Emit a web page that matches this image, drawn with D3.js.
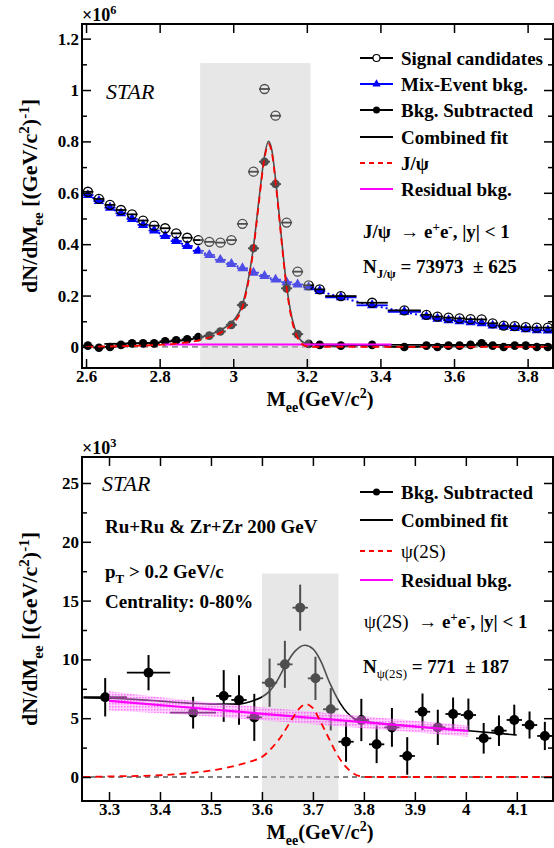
<!DOCTYPE html>
<html>
<head>
<meta charset="utf-8">
<script src="https://cdn.jsdelivr.net/npm/d3@7"></script>
<style>
body { margin: 0; background: #fff; }
svg text { font-family: "Liberation Serif", "Times New Roman", serif; font-weight: bold; white-space: pre; }
</style>
</head>
<body>
<svg width="554" height="848"></svg>
<script>

// ---- J/psi panel data ----
var massTop = [2.605, 2.635, 2.665, 2.695, 2.725, 2.755, 2.785, 2.815, 2.845, 2.875, 2.905, 2.935, 2.965, 2.995, 3.025,
    3.055, 3.085, 3.115, 3.145, 3.175, 3.205, 3.235, 3.2925, 3.3775, 3.465,
    3.525, 3.555, 3.585, 3.615, 3.645, 3.675, 3.705, 3.735, 3.765, 3.795, 3.825, 3.855];
var halfBinTop = [0.015, 0.015, 0.015, 0.015, 0.015, 0.015, 0.015, 0.015, 0.015, 0.015, 0.015, 0.015, 0.015, 0.015, 0.015,
    0.015, 0.015, 0.015, 0.015, 0.015, 0.015, 0.015, 0.0425, 0.0425, 0.045,
    0.015, 0.015, 0.015, 0.015, 0.015, 0.015, 0.015, 0.015, 0.015, 0.015, 0.015, 0.015];
var signalCand = [0.604, 0.576, 0.553, 0.533, 0.516, 0.492, 0.472, 0.462, 0.442, 0.425, 0.416, 0.409, 0.406, 0.416, 0.479,
    0.682, 1.004, 0.900, 0.484, 0.293, 0.240, 0.224, 0.198, 0.172, 0.142,
    0.125, 0.118, 0.114, 0.111, 0.108, 0.107, 0.092, 0.083, 0.081, 0.077, 0.075, 0.075];
var mixEvent = [0.591, 0.568, 0.542, 0.520, 0.498, 0.475, 0.453, 0.432, 0.412, 0.393, 0.374, 0.358, 0.339, 0.323, 0.306,
    0.289, 0.276, 0.262, 0.252, 0.243, 0.232, 0.218, 0.193, 0.162, 0.137,
    0.118, 0.110, 0.104, 0.100, 0.096, 0.092, 0.083, 0.078, 0.074, 0.069, 0.065, 0.064];
var bkgSubTop = [0.005, -0.003, 0.0, 0.008, 0.014, 0.014, 0.014, 0.022, 0.026, 0.030, 0.038, 0.044, 0.060, 0.086, 0.163,
    0.384, 0.721, 0.634, 0.228, 0.050, 0.012, 0.008, 0.005, 0.008, 0.0,
    0.005, 0.0, 0.005, 0.005, 0.008, 0.014, 0.005, 0.0, 0.005, 0.005, 0.0, 0.0];

// fit curves
var jpsiX = [2.60, 2.65, 2.70, 2.75, 2.80, 2.85, 2.90, 2.95, 2.98, 3.00, 3.025, 3.04, 3.055, 3.07, 3.084, 3.096,
    3.105, 3.116, 3.13, 3.145, 3.16, 3.175, 3.19, 3.21, 3.30, 3.50, 3.70, 3.87];
var jpsiY = [0.0, 0.002, 0.003, 0.005, 0.008, 0.013, 0.024, 0.045, 0.068, 0.092, 0.155, 0.245, 0.38, 0.565, 0.725, 0.79,
    0.755, 0.63, 0.43, 0.23, 0.10, 0.035, 0.008, 0.0, 0.0, 0.0, 0.0, 0.0];
var combTopX = [2.65, 2.70, 2.75, 2.80, 2.85, 2.90, 2.95, 2.98, 3.00, 3.025, 3.04, 3.055, 3.07, 3.084, 3.096,
    3.105, 3.116, 3.13, 3.145, 3.16, 3.175, 3.19, 3.21, 3.30, 3.50, 3.70, 3.865];
var combTopY = [0.012, 0.013, 0.015, 0.018, 0.023, 0.034, 0.055, 0.078, 0.102, 0.165, 0.255, 0.39, 0.575, 0.735, 0.80,
    0.765, 0.64, 0.44, 0.24, 0.11, 0.045, 0.018, 0.01, 0.009, 0.008, 0.008, 0.008];
var residTopX = [2.81, 3.43];
var residTopY = [0.009, 0.009];

var xTicksTop = [2.6, 2.8, 3, 3.2, 3.4, 3.6, 3.8];
var yTicksTop = [0, 0.2, 0.4, 0.6, 0.8, 1, 1.2];
var yMinorTop = [0.1, 0.3, 0.5, 0.7, 0.9, 1.1];

// ---- psi(2S) panel data ----
var massBot = [3.2925, 3.3775, 3.465, 3.525, 3.555, 3.585, 3.615, 3.645, 3.675, 3.705, 3.735, 3.765, 3.795,
    3.825, 3.855, 3.885, 3.915, 3.945, 3.975, 4.005, 4.035, 4.065, 4.095, 4.125, 4.155];
var halfBinBot = [0.0425, 0.0425, 0.045, 0.015, 0.015, 0.015, 0.015, 0.015, 0.015, 0.015, 0.015, 0.015, 0.015,
    0.015, 0.015, 0.015, 0.015, 0.015, 0.015, 0.015, 0.015, 0.015, 0.015, 0.015, 0.015];
var bkgSubBot = [6.78, 8.87, 5.47, 6.89, 6.55, 5.07, 8.02, 9.58, 14.4, 8.39, 5.76, 3.0, 4.85,
    2.78, 4.22, 1.79, 5.55, 4.22, 5.36, 5.27, 3.29, 3.94, 4.85, 4.42, 3.49];
var errBot = [1.63, 1.5, 1.35, 2.2, 2.1, 2.0, 2.05, 2.0, 1.96, 1.84, 1.8, 1.7, 1.8,
    1.6, 1.65, 1.6, 1.55, 1.5, 1.4, 1.4, 1.3, 1.3, 1.3, 1.15, 1.2];

var psiX = [3.25, 3.30, 3.40, 3.45, 3.50, 3.56, 3.58, 3.60, 3.62, 3.64, 3.66, 3.675, 3.687, 3.70, 3.715, 3.73,
    3.745, 3.76, 3.775, 3.79, 3.81, 3.90, 4.00, 4.171];
var psiY = [0.0, 0.05, 0.15, 0.3, 0.55, 1.1, 1.35, 1.7, 2.5, 3.6, 5.0, 5.9, 6.2, 5.85, 4.7, 3.4,
    2.1, 1.1, 0.45, 0.1, 0.0, 0.0, 0.0, 0.0];
var combBotX = [3.25, 3.30, 3.35, 3.40, 3.45, 3.50, 3.55, 3.58, 3.60, 3.615, 3.63, 3.645, 3.665, 3.684, 3.70,
    3.715, 3.733, 3.753, 3.78, 3.80, 3.85, 3.90, 4.00, 4.10];
var combBotY = [6.75, 6.7, 6.6, 6.45, 6.3, 6.2, 6.2, 6.45, 6.8, 7.3, 8.2, 9.4, 10.7, 11.2, 10.9,
    9.9, 8.0, 6.3, 5.0, 4.75, 4.5, 4.3, 3.95, 3.57];
var residBotX = [3.30, 3.45, 3.65, 3.85, 4.005];
var residBotY = [6.48, 5.93, 5.2, 4.47, 3.91];
var residBotLo = [5.65, 5.3, 4.65, 3.97, 3.43];
var residBotHi = [7.3, 6.55, 5.75, 4.97, 4.38];

var xTicksBot = [3.3, 3.4, 3.5, 3.6, 3.7, 3.8, 3.9, 4, 4.1];
var yTicksBot = [0, 5, 10, 15, 20, 25];
var yMinorBot = [2.5, 7.5, 12.5, 17.5, 22.5];

var svg = d3.select("svg");
var w = 471, h = 344;
var FONT = "'Liberation Serif', 'Times New Roman', serif";

// text with sub/superscripts: parts = [[str, ""|"sub"|"sup", weight?], ...]
function rich(el, parts, fs) {
    var shift = 0;
    parts.forEach(function(p) {
        var s = p[1] == "sub" ? fs * 0.27 : p[1] == "sup" ? -fs * 0.38 : 0;
        var t = el.append("tspan").attr("dy", s - shift).attr("font-size", p[1] ? fs * 0.68 : fs).text(p[0]);
        if (p[2]) t.style("font-weight", p[2]);
        shift = s;
    });
    return el;
}

function fmt(d) { return String(+d.toFixed(2)); }

function axes(g, x, y, xt, yt, ym, expo, clipId) {
    g.append("clipPath").attr("id", clipId).append("rect").attr("width", w).attr("height", h);

    var ax = g.append("g").attr("class", "axes");
    ax.append("g").attr("transform", "translate(0," + h + ")")
        .call(d3.axisBottom(x).tickValues(xt).tickSizeInner(-9).tickSizeOuter(0).tickPadding(2).tickFormat(fmt));
    ax.append("g")
        .call(d3.axisTop(x).tickValues(xt).tickSizeInner(-9).tickSizeOuter(0).tickFormat(""));
    ax.append("g")
        .call(d3.axisLeft(y).tickValues(yt).tickSizeInner(-9).tickSizeOuter(0).tickPadding(3).tickFormat(fmt));
    ax.append("g")
        .call(d3.axisLeft(y).tickValues(ym).tickSizeInner(-5).tickSizeOuter(0).tickFormat(""));
    ax.append("g").attr("transform", "translate(" + w + ",0)")
        .call(d3.axisRight(y).tickValues(yt).tickSizeInner(-9).tickSizeOuter(0).tickFormat(""));
    ax.append("g").attr("transform", "translate(" + w + ",0)")
        .call(d3.axisRight(y).tickValues(ym).tickSizeInner(-5).tickSizeOuter(0).tickFormat(""));
    ax.selectAll(".domain").remove();
    ax.selectAll(".tick line").attr("stroke-width", 1.5);
    ax.selectAll("g").attr("font-family", FONT).attr("font-size", 17);
    ax.selectAll("text").attr("fill", "#000");

    ax.append("rect").attr("width", w).attr("height", h)
        .attr("fill", "none").attr("stroke", "#000").attr("stroke-width", 2);

    rich(ax.append("text").attr("x", 0).attr("y", -3).attr("font-size", 18), [["\u00d710", ""], [expo, "sup"]], 18);

    rich(ax.append("text").attr("x", 238).attr("y", h + 38).attr("text-anchor", "middle"),
        [["M", ""], ["ee", "sub"], ["(GeV/c", ""], ["2", "sup"], [")", ""]], 20.5);

    rich(ax.append("text").attr("transform", "translate(-45," + (h / 2) + ") rotate(-90)").attr("text-anchor", "middle"),
        [["dN/dM", ""], ["ee", "sub"], [" [(GeV/c", ""], ["2", "sup"], [")", ""], ["-1", "sup"], ["]", ""]], 22);
}

function hbars(g, xs, ys, hw, x, y, color) {
    g.selectAll(null).data(xs).enter().append("line")
        .attr("x1", function(d, i) { return x(d - hw[i]); })
        .attr("x2", function(d, i) { return x(d + hw[i]); })
        .attr("y1", function(d, i) { return y(ys[i]); })
        .attr("y2", function(d, i) { return y(ys[i]); })
        .attr("stroke", color).attr("stroke-width", 1.8);
}

function curve(g, xs, ys, x, y) {
    return g.append("path")
        .datum(xs.map(function(d, i) { return [d, ys[i]]; }))
        .attr("fill", "none")
        .attr("d", d3.line().x(function(d) { return x(d[0]); }).y(function(d) { return y(d[1]); }).curve(d3.curveMonotoneX));
}

function legend(g, x0, items) {
    items.forEach(function(it) {
        var l = g.append("g").attr("transform", "translate(" + x0 + "," + it.y + ")");
        l.append("line").attr("x1", 0).attr("x2", 33).attr("stroke", it.color)
            .attr("stroke-width", it.width || 1.8).attr("stroke-dasharray", it.dash || null);
        if (it.marker == "open") l.append("circle").attr("cx", 16.5).attr("r", 3.5).attr("fill", "#fff").attr("stroke", "#000").attr("stroke-width", 1.2);
        if (it.marker == "dot") l.append("circle").attr("cx", 16.5).attr("r", 3.5).attr("fill", "#000");
        if (it.marker == "tri") l.append("path").attr("transform", "translate(16.5,0)").attr("d", d3.symbol(d3.symbolTriangle, 30)()).attr("fill", "#00f");
        var t = l.append("text").attr("x", 41).attr("y", 6.5).attr("font-size", 19);
        rich(t, it.text, 19);
    });
}

// ================= top panel =================
var gT = svg.append("g").attr("transform", "translate(82,24)");
var xT = d3.scaleLinear().domain([2.589, 3.869]).range([0, w]);
var yT = d3.scaleLinear().domain([-0.082, 1.257]).range([h, 0]);

var pT = gT.append("g").attr("clip-path", "url(#clipT)");

pT.append("line").attr("x1", 0).attr("x2", w).attr("y1", yT(0)).attr("y2", yT(0))
    .attr("stroke", "#444").attr("stroke-width", 1).attr("stroke-dasharray", "6,4");

// mixed-event: dotted connecting line + bars + triangles
curve(pT, massTop, mixEvent, xT, yT).attr("stroke", "#00f").attr("stroke-width", 2).attr("stroke-dasharray", "2,3");
hbars(pT, massTop, mixEvent, halfBinTop, xT, yT, "#00f");
pT.selectAll(".tri").data(massTop).enter().append("path")
    .attr("transform", function(d, i) { return "translate(" + xT(d) + "," + yT(mixEvent[i]) + ")"; })
    .attr("d", d3.symbol(d3.symbolTriangle, 46)()).attr("fill", "#00f");

hbars(pT, massTop, signalCand, halfBinTop, xT, yT, "#000");
pT.selectAll(".open").data(massTop).enter().append("circle")
    .attr("cx", function(d) { return xT(d); })
    .attr("cy", function(d, i) { return yT(signalCand[i]); })
    .attr("r", 4.5).attr("fill", "none").attr("stroke", "#000").attr("stroke-width", 1.3);

hbars(pT, massTop, bkgSubTop, halfBinTop, xT, yT, "#000");
pT.selectAll(".dot").data(massTop).enter().append("circle")
    .attr("cx", function(d) { return xT(d); })
    .attr("cy", function(d, i) { return yT(bkgSubTop[i]); })
    .attr("r", 4.3).attr("fill", "#000");

curve(pT, combTopX, combTopY, xT, yT).attr("stroke", "#000").attr("stroke-width", 1.6);

// signal window shading
pT.append("rect").attr("x", xT(2.91)).attr("width", xT(3.21) - xT(2.91))
    .attr("y", yT(1.105)).attr("height", h - yT(1.105))
    .attr("fill", "rgb(195,195,195)").attr("fill-opacity", 0.4);

curve(pT, residTopX, residTopY, xT, yT).attr("stroke", "#f0f").attr("stroke-width", 2);
curve(pT, jpsiX, jpsiY, xT, yT).attr("stroke", "#f00").attr("stroke-width", 1.8).attr("stroke-dasharray", "7,5");

axes(gT, xT, yT, xTicksTop, yTicksTop, yMinorTop, "6", "clipT");

gT.append("text").attr("x", 24).attr("y", 75).attr("font-size", 22)
    .style("font-weight", "normal").style("font-style", "italic").text("STAR");

legend(gT, 278, [
    {y: 34, color: "#000", marker: "open", text: [["Signal candidates", ""]]},
    {y: 60, color: "#00f", marker: "tri", text: [["Mix-Event bkg.", ""]]},
    {y: 86, color: "#000", marker: "dot", text: [["Bkg. Subtracted", ""]]},
    {y: 113, color: "#000", text: [["Combined fit", ""]]},
    {y: 139, color: "#f00", dash: "5,4", text: [["J/\u03c8", ""]]},
    {y: 165, color: "#f0f", text: [["Residual bkg.", ""]]}
]);

rich(gT.append("text").attr("x", 281).attr("y", 214), [["J/\u03c8  \u2192 e", ""], ["+", "sup"], ["e", ""], ["-", "sup"], [", |y| < 1", ""]], 19);
rich(gT.append("text").attr("x", 281).attr("y", 249), [["N", ""], ["J/\u03c8", "sub"], [" = 73973  \u00b1 625", ""]], 19);

// ================= bottom panel =================
var gB = svg.append("g").attr("transform", "translate(82,457)");
var xB = d3.scaleLinear().domain([3.247, 4.171]).range([0, w]);
var yB = d3.scaleLinear().domain([-2.04, 27.21]).range([h, 0]);

var defs = svg.append("defs");
var pat = defs.append("pattern").attr("id", "hatch").attr("patternUnits", "userSpaceOnUse").attr("width", 3).attr("height", 3);
pat.append("rect").attr("width", 3).attr("height", 3).attr("fill", "#ff9cff").attr("fill-opacity", 0.45);
pat.append("rect").attr("width", 1.5).attr("height", 1.5).attr("fill", "#f0f").attr("fill-opacity", 0.45);

var pB = gB.append("g").attr("clip-path", "url(#clipB)");

pB.append("line").attr("x1", 0).attr("x2", w).attr("y1", yB(0)).attr("y2", yB(0))
    .attr("stroke", "#000").attr("stroke-width", 1.2).attr("stroke-dasharray", "5,4");

hbars(pB, massBot, bkgSubBot, halfBinBot, xB, yB, "#000");
pB.selectAll(".ebar").data(massBot).enter().append("line")
    .attr("x1", function(d) { return xB(d); }).attr("x2", function(d) { return xB(d); })
    .attr("y1", function(d, i) { return yB(bkgSubBot[i] - errBot[i]); })
    .attr("y2", function(d, i) { return yB(bkgSubBot[i] + errBot[i]); })
    .attr("stroke", "#000").attr("stroke-width", 2);
pB.selectAll(".dotB").data(massBot).enter().append("circle")
    .attr("cx", function(d) { return xB(d); })
    .attr("cy", function(d, i) { return yB(bkgSubBot[i]); })
    .attr("r", 5).attr("fill", "#000");

curve(pB, combBotX, combBotY, xB, yB).attr("stroke", "#000").attr("stroke-width", 1.6);

pB.append("rect").attr("x", xB(3.6)).attr("width", xB(3.75) - xB(3.6))
    .attr("y", yB(17.3)).attr("height", h - yB(17.3))
    .attr("fill", "rgb(195,195,195)").attr("fill-opacity", 0.4);

pB.append("path")
    .datum(residBotX.map(function(d, i) { return [d, residBotLo[i], residBotHi[i]]; }))
    .attr("fill", "url(#hatch)")
    .attr("d", d3.area().x(function(d) { return xB(d[0]); }).y0(function(d) { return yB(d[1]); })
        .y1(function(d) { return yB(d[2]); }).curve(d3.curveMonotoneX));
curve(pB, residBotX, residBotY, xB, yB).attr("stroke", "#f0f").attr("stroke-width", 2.2);
curve(pB, psiX, psiY, xB, yB).attr("stroke", "#f00").attr("stroke-width", 1.8).attr("stroke-dasharray", "7,5");

axes(gB, xB, yB, xTicksBot, yTicksBot, yMinorBot, "3", "clipB");

gB.append("text").attr("x", 20).attr("y", 34).attr("font-size", 22)
    .style("font-weight", "normal").style("font-style", "italic").text("STAR");
gB.append("text").attr("x", 23).attr("y", 76).attr("font-size", 19).text("Ru+Ru & Zr+Zr 200 GeV");
rich(gB.append("text").attr("x", 23).attr("y", 121), [["p", ""], ["T", "sub"], [" > 0.2 GeV/c", ""]], 19);
gB.append("text").attr("x", 23).attr("y", 151).attr("font-size", 19).text("Centrality: 0-80%");

legend(gB, 278, [
    {y: 35, color: "#000", marker: "dot", text: [["Bkg. Subtracted", ""]]},
    {y: 63, color: "#000", text: [["Combined fit", ""]]},
    {y: 94, color: "#f00", dash: "5,4", text: [["\u03c8(2S)", "", "normal"]]},
    {y: 123, color: "#f0f", text: [["Residual bkg.", ""]]}
]);

rich(gB.append("text").attr("x", 282).attr("y", 171),
    [["\u03c8(2S)", "", "normal"], ["  \u2192 e", ""], ["+", "sup"], ["e", ""], ["-", "sup"], [", |y| < 1", ""]], 19);
rich(gB.append("text").attr("x", 281).attr("y", 216), [["N", ""], ["\u03c8(2S)", "sub", "normal"], [" = 771  \u00b1 187", ""]], 19);

</script>
</body>
</html>
